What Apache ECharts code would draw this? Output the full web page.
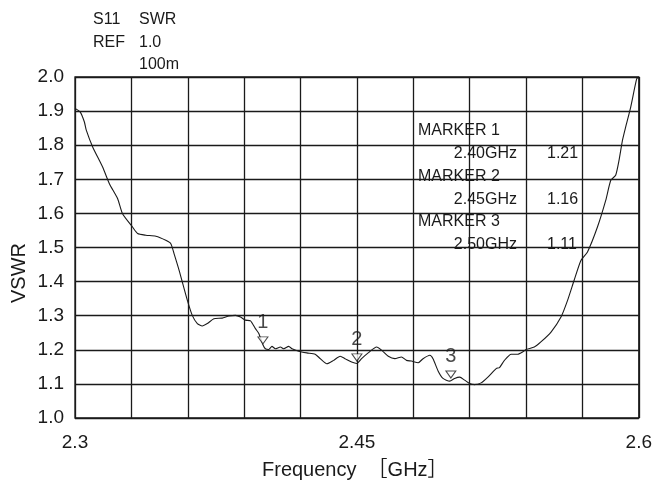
<!DOCTYPE html>
<html>
<head>
<meta charset="utf-8">
<script src="https://cdn.jsdelivr.net/npm/echarts@6/dist/echarts.min.js"></script>
<style>
html,body{margin:0;padding:0;background:#fff;}
#chart{width:655px;height:483px;}
</style>
</head>
<body>
<div id="chart"></div>
<script>
// ---- data ----
const freq = [2.300,2.3028,2.305,2.306,2.3094,2.3147,2.3183,2.3227,2.3253,2.3306,2.3333,2.3377,2.343,2.3483,2.351,2.3527,2.3554,2.3598,2.3624,2.3651,2.3677,2.3704,2.3739,2.3783,2.3819,2.3854,2.3881,2.3907,2.3934,2.396,2.3978,2.400,2.4013,2.4031,2.4048,2.4066,2.4093,2.4111,2.4137,2.4155,2.419,2.4234,2.4278,2.4305,2.434,2.4376,2.4411,2.4437,2.4472,2.450,2.4525,2.456,2.4605,2.4631,2.4667,2.4702,2.4737,2.4764,2.479,2.4826,2.4852,2.4888,2.4905,2.4932,2.4958,2.4994,2.502,2.5047,2.5073,2.510,2.5126,2.5161,2.5197,2.5241,2.5259,2.5285,2.5321,2.5356,2.5383,2.540,2.5444,2.5479,2.5533,2.5586,2.5621,2.5656,2.5692,2.5727,2.578,2.5824,2.5851,2.5877,2.5895,2.5913,2.593,2.5957,2.5989,2.600];
const vswr = [1.908,1.897,1.868,1.844,1.795,1.736,1.687,1.643,1.599,1.560,1.541,1.536,1.533,1.521,1.511,1.482,1.433,1.345,1.301,1.277,1.270,1.277,1.291,1.293,1.299,1.301,1.296,1.287,1.285,1.262,1.248,1.215,1.203,1.201,1.210,1.203,1.208,1.203,1.210,1.203,1.196,1.191,1.187,1.174,1.159,1.169,1.181,1.174,1.164,1.160,1.174,1.191,1.208,1.199,1.181,1.174,1.179,1.169,1.167,1.162,1.174,1.184,1.174,1.138,1.116,1.108,1.116,1.120,1.111,1.101,1.098,1.103,1.120,1.145,1.148,1.169,1.187,1.187,1.194,1.201,1.208,1.223,1.252,1.296,1.345,1.404,1.462,1.487,1.560,1.638,1.697,1.712,1.756,1.814,1.853,1.912,1.995,2.000];

const markerIds = ['1','2','3'];
const markerFreq = [2.40, 2.45, 2.50];
const markerVswr = [1.21, 1.16, 1.11];

const xTickLabels = ['2.3','2.45','2.6'];
const xMin = 2.3, xMax = 2.6, xDivisions = 10;
const yMin = 1.0, yMax = 2.0, yStep = 0.1;

const headerRows = [['S11','SWR'],['REF','1.0'],['','100m']];
const xAxisTitle = 'Frequency  ［GHz］';
const yAxisTitle = 'VSWR';

// ---- chart ----
const FONT = '"Liberation Sans", Arial, Helvetica, sans-serif';
const TITLE_FONT = '"Liberation Sans", Arial, "Noto Sans CJK JP", sans-serif';
const INK = '#1a1a1a';
const chart = echarts.init(document.getElementById('chart'), null, {renderer:'canvas'});

const divCats = [];
for (let i = 0; i <= xDivisions; i++) divCats.push((xMin + (xMax - xMin) * i / xDivisions).toFixed(3));
const shownTick = v => {
  const f = parseFloat(v);
  const hit = xTickLabels.find(t => Math.abs(parseFloat(t) - f) < 1e-6);
  return hit || '';
};

const graphic = [];
headerRows.forEach((row, r) => {
  const y = 21 + r * 22.5;
  if (row[0]) graphic.push({type:'text', left:93, top:y - 9, style:{text:row[0], font:'16px ' + FONT, fill:INK}});
  if (row[1]) graphic.push({type:'text', left:139, top:y - 9, style:{text:row[1], font:'16px ' + FONT, fill:INK}});
});
markerIds.forEach((id, i) => {
  const y0 = 131 + i * 45.5;
  graphic.push({type:'text', x:418, y:y0, style:{text:'MARKER ' + id, font:'16px ' + FONT, fill:INK, verticalAlign:'middle', align:'left'}});
  graphic.push({type:'text', x:517, y:y0 + 23, style:{text:markerFreq[i].toFixed(2) + 'GHz', font:'16px ' + FONT, fill:INK, verticalAlign:'middle', align:'right'}});
  graphic.push({type:'text', x:547, y:y0 + 23, style:{text:markerVswr[i].toFixed(2), font:'16px ' + FONT, fill:INK, verticalAlign:'middle', align:'left'}});
});
graphic.push({type:'text', x:262, y:470, style:{text:xAxisTitle, font:'20px ' + TITLE_FONT, fill:INK, verticalAlign:'middle', align:'left'}});
graphic.push({type:'text', x:19, y:273, rotation:Math.PI/2, style:{text:yAxisTitle, font:'20px ' + FONT, fill:INK, verticalAlign:'middle', align:'center'}});

const gridLine = {show:true, lineStyle:{color:INK, width:1.3}};

chart.setOption({
  animation:false,
  backgroundColor:'#fff',
  grid:{left:75, top:77, width:566, height:341, show:true, borderColor:INK, borderWidth:1.3},
  xAxis:[
    {type:'value', min:xMin, max:xMax, show:false},
    {type:'category', boundaryGap:false, data:divCats, position:'bottom',
     axisLine:{show:false}, axisTick:{show:false},
     axisLabel:{interval:0, margin:15, fontSize:19, color:INK, fontFamily:FONT, formatter:v => shownTick(v)},
     splitLine:Object.assign({interval:0}, gridLine)}
  ],
  yAxis:{type:'value', min:yMin, max:yMax, interval:yStep,
     axisLine:{show:false}, axisTick:{show:false},
     axisLabel:{margin:11, fontSize:19, color:INK, fontFamily:FONT, formatter:v => v.toFixed(1)},
     splitLine:gridLine},
  series:[
    {type:'line', xAxisIndex:0, data:freq.map((f, i) => [f, vswr[i]]), showSymbol:false, smooth:0.2,
     lineStyle:{color:INK, width:1.1}, clip:true, z:3},
    {type:'scatter', xAxisIndex:0, data:markerFreq.map((f, i) => [f, markerVswr[i]]),
     symbol:'path://M0,0 L10,0 L5,7 Z', symbolSize:[10,7], symbolOffset:[0,-6],
     itemStyle:{color:'#fff', borderColor:INK, borderWidth:1},
     label:{show:true, position:'top', distance:4, fontSize:20, color:INK, fontFamily:FONT,
            formatter:p => markerIds[p.dataIndex]}, z:4}
  ],
  graphic:graphic
});
</script>
</body>
</html>
